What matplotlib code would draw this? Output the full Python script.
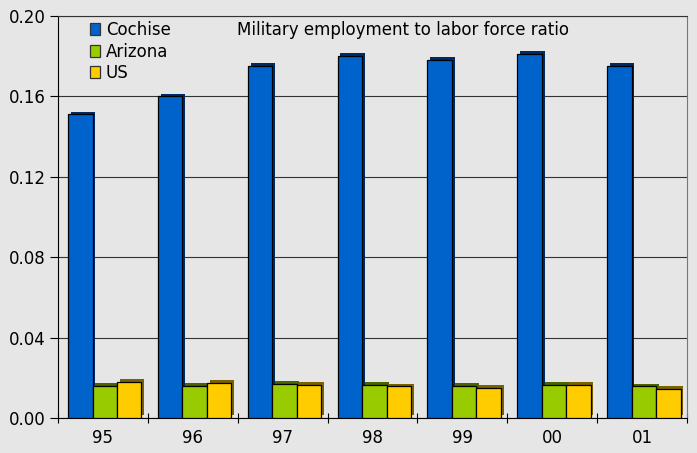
import matplotlib.pyplot as plt
import matplotlib.patheffects as pe
from matplotlib.patches import Patch
import numpy as np

years = ['95', '96', '97', '98', '99', '00', '01']
cochise = [0.151, 0.160, 0.175, 0.180, 0.178, 0.181, 0.175]
arizona = [0.016, 0.016, 0.017, 0.0165, 0.016, 0.0165, 0.0157]
us = [0.018, 0.0173, 0.0165, 0.0157, 0.015, 0.0165, 0.0145]

series = [('Cochise', cochise, '#0063cc', '#002a66'),
          ('Arizona', arizona, '#99cc00', '#4a6400'),
          ('US', us, '#ffcc00', '#7a6200')]

plt.rcParams['font.family'] = ['DejaVu Sans']

fig = plt.figure(figsize=(6.97, 4.53), dpi=100, facecolor='#e6e6e6')
ax = fig.add_axes([58 / 697, 35 / 453, 629 / 697, 402 / 453])
ax.set_facecolor('#e6e6e6')

x = np.arange(len(years))
w = 0.272
handles = []
for i, (name, vals, col, dark) in enumerate(series):
    ax.bar(x + (i - 1) * w + 0.02, vals, w, color=col, edgecolor='black',
           linewidth=0.9, zorder=3,
           path_effects=[pe.SimplePatchShadow(offset=(2, 2), shadow_rgbFace=dark, alpha=1),
                         pe.Normal()])
    handles.append(Patch(facecolor=col, edgecolor='#333333', linewidth=0.9, label=name))

ax.set_ylim(0, 0.20)
ax.set_xlim(-0.5, len(years) - 0.5)
ax.set_yticks(np.arange(0, 0.201, 0.04))
ax.set_yticklabels(['%.2f' % v for v in np.arange(0, 0.201, 0.04)], fontsize=12)
ax.yaxis.grid(True, color='#333333', linewidth=0.8, zorder=0)
ax.set_axisbelow(True)

ax.set_xticks(np.arange(-0.5, len(years), 1))
ax.set_xticklabels([])
ax.set_xticks(x, minor=True)
ax.set_xticklabels(years, minor=True, fontsize=12)
ax.tick_params(axis='x', which='minor', length=0, pad=8)
ax.tick_params(axis='x', which='major', length=7, direction='inout', color='black')
ax.tick_params(axis='y', length=6, direction='out', color='black', pad=3)

for s in ['left', 'bottom']:
    ax.spines[s].set_color('black')
ax.spines['top'].set_color('#333333')
ax.spines['right'].set_color('#777777')

ax.text(0.548, 0.965, 'Military employment to labor force ratio', transform=ax.transAxes,
        ha='center', va='center', fontsize=12)
ax.legend(handles=handles, loc='upper left', bbox_to_anchor=(0.035, 1.012), frameon=False,
          fontsize=12, handlelength=0.6, handleheight=0.75, handletextpad=0.35,
          labelspacing=0.2, borderaxespad=0.2)

fig.savefig('out.png', dpi=100, facecolor=fig.get_facecolor())
